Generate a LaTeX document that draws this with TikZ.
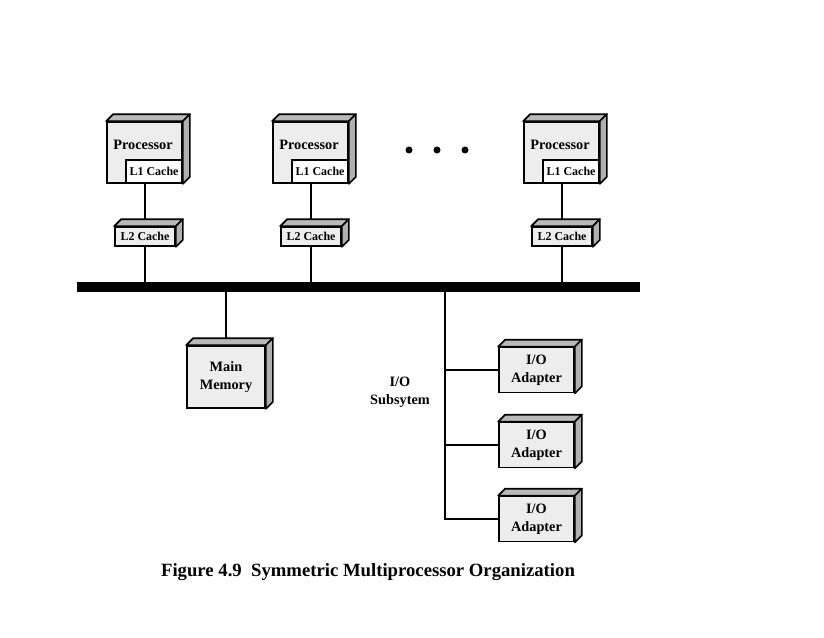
\documentclass[tikz,border=0pt]{standalone}
\usepackage{fontspec}
\setmainfont{Liberation Serif}
\usetikzlibrary{calc}
\tikzset{
  box/.style={draw, line width=1.7pt, fill=gray!14, inner sep=0pt, align=center,
    font=\bfseries\fontsize{14.3}{18}\selectfont},
  cachebox/.style={box, font=\bfseries\fontsize{12}{14}\selectfont},
  lbl/.style={inner sep=0pt, align=center, font=\bfseries\fontsize{14.3}{18}\selectfont},
  conn/.style={line width=1.7pt},
  bus/.style={line width=10pt},
  dot/.style={circle, fill=black, inner sep=0pt, minimum size=7pt},
  topface/.style={fill=gray!55, draw, line width=1.7pt, line join=round},
  sideface/.style={fill=gray!62, draw, line width=1.7pt, line join=round}
}
\newcommand\mydepth[2]{%
  \path[topface] (#1.north west) -- ++(#2,-#2) -- ($(#1.north east)+(#2,-#2)$) -- (#1.north east) -- cycle;
  \path[sideface] (#1.north east) -- ++(#2,-#2) -- ($(#1.south east)+(#2,-#2)$) -- (#1.south east) -- cycle;
}
\begin{document}
\begin{tikzpicture}[x=1pt,y=-1pt]
\useasboundingbox (0,0) rectangle (824,637);
% bus
\coordinate (busL) at (77,287);
\coordinate (busR) at (640,287);
\coordinate (iotap) at (445,287);
\draw[bus] (busL) -- (busR);
% processors
\foreach \i/\x in {1/144.5,2/310.5,3/561.5}{
  \node[box, minimum width=75pt, minimum height=61pt] (p\i) at (\x,152.5) {};
  \node[cachebox, fill=white, minimum width=56pt, minimum height=23pt, anchor=south east] (c\i) at (p\i.south east) {L1 Cache};
  \node[lbl] (pt\i) at (\x-1.5,145) {Processor};
  \node[cachebox, minimum width=60pt, minimum height=19pt] (l\i) at (\x+0.5,236.5) {L2 Cache};
  \draw[conn] (p\i.south -| l\i.north) -- (l\i.north);
  \draw[conn] (l\i.south) -- (l\i.south |- busL);
}
\foreach \i in {1,2,3}{\mydepth{p\i}{7}\mydepth{l\i}{7}}
% dots
\node[dot] (d1) at (409,150) {};
\node[dot] (d2) at (437,150) {};
\node[dot] (d3) at (465,150) {};
% main memory
\node[box, minimum width=78pt, minimum height=62pt] (mem) at (226,377) {Main\\Memory};
\draw[conn] (mem.north |- busL) -- (mem.north);
\mydepth{mem}{7}
% I/O
\foreach \i/\y in {1/370,2/445,3/519}{
  \node[box, minimum width=75pt, minimum height=45pt] (io\i) at (536.5,\y) {I/O\\Adapter};
  \mydepth{io\i}{7}
}
\draw[conn] (iotap) |- (io3.west);
\draw[conn] (iotap |- io1.west) -- (io1.west);
\draw[conn] (iotap |- io2.west) -- (io2.west);
\node[lbl] (iolbl) at (400,392) {I/O\\Subsytem};
% caption
\node[inner sep=0pt, font=\bfseries\fontsize{18.7}{20}\selectfont] (cap) at (368,572) {Figure 4.9\ \ Symmetric Multiprocessor Organization};
\end{tikzpicture}
\end{document}
